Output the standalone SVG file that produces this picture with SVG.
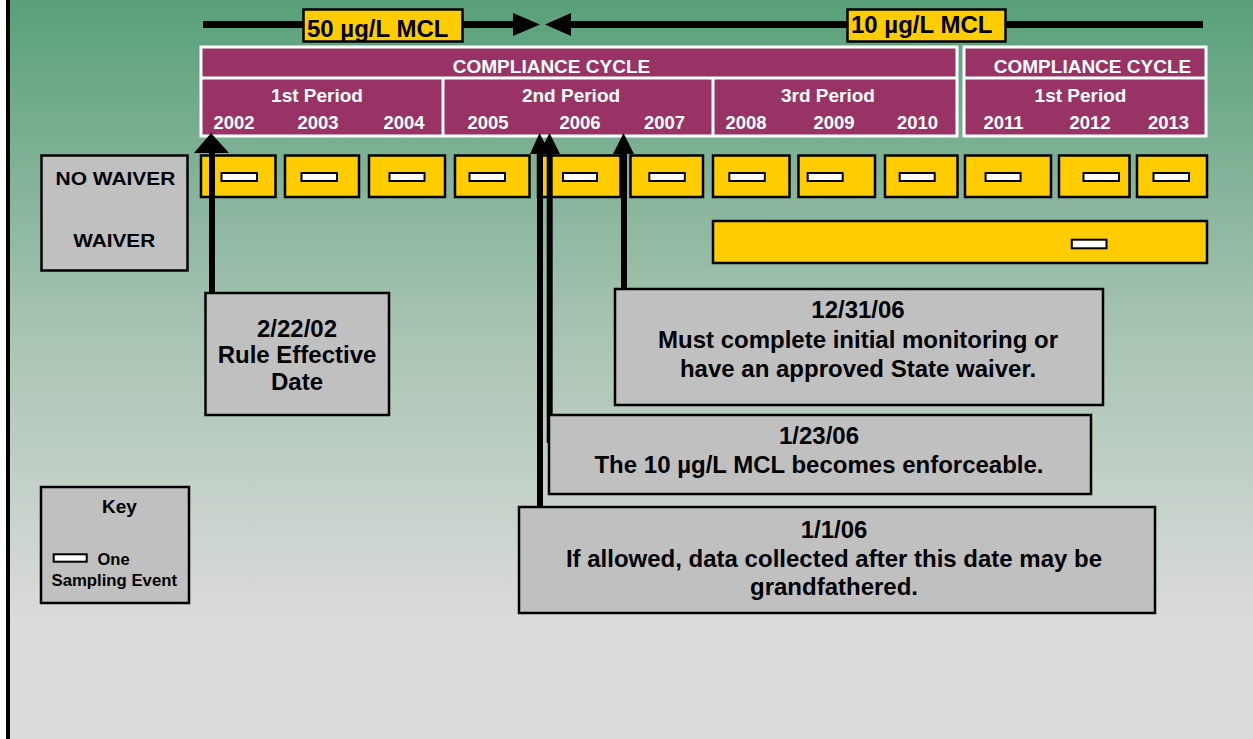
<svg xmlns="http://www.w3.org/2000/svg" width="1253" height="739" viewBox="0 0 1253 739">
<defs>
<linearGradient id="bg" x1="0" y1="0" x2="0" y2="1">
<stop offset="0" stop-color="#58a07a"/>
<stop offset="0.45" stop-color="#a8c4b2"/>
<stop offset="0.85" stop-color="#dcdcdc"/>
<stop offset="1" stop-color="#dcdcdc"/>
</linearGradient>
<style>
.b{font-family:"Liberation Sans",Arial,sans-serif;font-weight:bold}
.w{fill:#ffffff}
.k{fill:#000000}
.tbl{fill:#993366;stroke:#ffffff;stroke-width:3}
.sep{stroke:#ffffff;stroke-width:3}
.gold{fill:#ffcc00;stroke:#000000;stroke-width:2.5}
.samp{fill:#ffffff;stroke:#000000;stroke-width:2}
.gray{fill:#c0c0c0;stroke:#000000;stroke-width:2.5}
.shaft{stroke:#000000;stroke-width:6}
.bar{stroke:#000000;stroke-width:7}
</style>
</defs>
<rect x="0" y="0" width="1253" height="739" fill="url(#bg)"/>
<rect x="0" y="0" width="6" height="739" fill="#ffffff"/>
<rect x="6" y="0" width="4" height="739" fill="#000000"/>

<g id="mcl-bar">
<line class="bar" x1="203" y1="24.5" x2="515" y2="24.5"/>
<polygon class="k" points="513,13 540,24.5 513,36"/>
<polygon class="k" points="571,13 545,24.5 571,36"/>
<line class="bar" x1="569" y1="24.5" x2="1203" y2="24.5"/>
</g>
<g id="mcl50">
<rect x="303.5" y="9.5" width="159" height="32" fill="#ffcc00" stroke="#000" stroke-width="2.5"/>
<text class="b k" x="307" y="37" font-size="24">50 µg/L MCL</text>
</g>
<g id="mcl10">
<rect x="847.5" y="9.5" width="158" height="32" fill="#ffcc00" stroke="#000" stroke-width="2.5"/>
<text class="b k" x="851" y="33" font-size="24">10 µg/L MCL</text>
</g>

<g id="cycle1">
<rect class="tbl" x="201" y="47" width="756" height="89"/>
<line class="sep" x1="201" y1="78" x2="957" y2="78"/>
<line class="sep" x1="443" y1="78" x2="443" y2="136"/>
<line class="sep" x1="713" y1="78" x2="713" y2="136"/>
<g class="b w" font-size="19" text-anchor="middle">
<text x="551.5" y="73">COMPLIANCE CYCLE</text>
<text x="317" y="102">1st Period</text>
<text x="571" y="102">2nd Period</text>
<text x="828" y="102">3rd Period</text>
</g>
<g class="b w" font-size="18.5" text-anchor="middle">
<text x="234" y="129">2002</text>
<text x="318" y="129">2003</text>
<text x="404" y="129">2004</text>
<text x="488" y="129">2005</text>
<text x="580" y="129">2006</text>
<text x="664.5" y="129">2007</text>
<text x="746" y="129">2008</text>
<text x="834" y="129">2009</text>
<text x="917.5" y="129">2010</text>
</g>
</g>

<g id="cycle2">
<rect class="tbl" x="964" y="47" width="242" height="89"/>
<line class="sep" x1="964" y1="78" x2="1206" y2="78"/>
<g class="b w" text-anchor="middle">
<text x="1092.5" y="73" font-size="19">COMPLIANCE CYCLE</text>
<text x="1080.5" y="102" font-size="19">1st Period</text>
<text x="1003.5" y="129" font-size="18.5">2011</text>
<text x="1090" y="129" font-size="18.5">2012</text>
<text x="1168.5" y="129" font-size="18.5">2013</text>
</g>
</g>

<g id="row-labels">
<rect class="gray" x="41.5" y="155.5" width="146" height="115"/>
<text class="b k" x="55.6" y="185" font-size="19" textLength="119.8" lengthAdjust="spacingAndGlyphs">NO WAIVER</text>
<text class="b k" x="73.2" y="247" font-size="19" textLength="82" lengthAdjust="spacingAndGlyphs">WAIVER</text>
</g>

<g id="no-waiver-row">
<rect class="gold" x="201" y="155.5" width="74.5" height="41.5"/>
<rect class="gold" x="285" y="155.5" width="74" height="41.5"/>
<rect class="gold" x="369" y="155.5" width="76" height="41.5"/>
<rect class="gold" x="455" y="155.5" width="74.5" height="41.5"/>
<rect class="gold" x="538" y="155.5" width="82.5" height="41.5"/>
<rect class="gold" x="630.5" y="155.5" width="72.5" height="41.5"/>
<rect class="gold" x="713" y="155.5" width="76.5" height="41.5"/>
<rect class="gold" x="798.5" y="155.5" width="76.5" height="41.5"/>
<rect class="gold" x="885" y="155.5" width="72.5" height="41.5"/>
<rect class="gold" x="965" y="155.5" width="86" height="41.5"/>
<rect class="gold" x="1059" y="155.5" width="70.5" height="41.5"/>
<rect class="gold" x="1137" y="155.5" width="70" height="41.5"/>
<rect class="samp" x="221.5" y="173" width="35.5" height="8"/>
<rect class="samp" x="301.5" y="173" width="35.5" height="8"/>
<rect class="samp" x="389.5" y="173" width="35" height="8"/>
<rect class="samp" x="469.5" y="173" width="35.5" height="8"/>
<rect class="samp" x="563" y="173" width="34" height="8"/>
<rect class="samp" x="649.3" y="173" width="35.5" height="8"/>
<rect class="samp" x="729.3" y="173" width="35.5" height="8"/>
<rect class="samp" x="807.7" y="173" width="35" height="8"/>
<rect class="samp" x="899.7" y="173" width="35" height="8"/>
<rect class="samp" x="985.6" y="173" width="35" height="8"/>
<rect class="samp" x="1083.5" y="173" width="35.5" height="8"/>
<rect class="samp" x="1153.5" y="173" width="35.5" height="8"/>
</g>

<g id="waiver-row">
<rect class="gold" x="713" y="221" width="494" height="42"/>
<rect class="samp" x="1071.8" y="239.7" width="34.7" height="8.6"/>
</g>

<g id="connectors">
<line class="shaft" x1="212" y1="150" x2="212" y2="293"/>
<polygon class="k" points="194,153 211,133 229,153"/>
<line class="shaft" x1="540" y1="150" x2="540" y2="507"/>
<polygon class="k" points="530,154 539.5,133 550,154"/>
<line class="shaft" x1="549.7" y1="150" x2="549.7" y2="443"/>
<polygon class="k" points="539,154 549.5,133 560,154"/>
<line class="shaft" x1="624" y1="150" x2="624" y2="289"/>
<polygon class="k" points="613,154 623.5,133 634,154"/>
</g>

<g id="note-rule-effective">
<rect class="gray" x="205.5" y="293" width="183.5" height="122"/>
<g class="b k" font-size="24" text-anchor="middle">
<text x="297" y="337">2/22/02</text>
<text x="297" y="363">Rule Effective</text>
<text x="297" y="390">Date</text>
</g>
</g>

<g id="note-123106">
<rect class="gray" x="615" y="289" width="488" height="116"/>
<g class="b k" font-size="24" text-anchor="middle">
<text x="858" y="318">12/31/06</text>
<text x="858" y="348">Must complete initial monitoring or</text>
<text x="858" y="377">have an approved State waiver.</text>
</g>
</g>

<g id="note-12306">
<rect class="gray" x="549" y="415" width="542" height="79"/>
<g class="b k" font-size="24" text-anchor="middle">
<text x="819" y="444">1/23/06</text>
<text x="819" y="473">The 10 µg/L MCL becomes enforceable.</text>
</g>
</g>

<g id="note-1106">
<rect class="gray" x="519" y="507" width="636" height="106"/>
<g class="b k" font-size="24" text-anchor="middle">
<text x="834" y="538">1/1/06</text>
<text x="834" y="567">If allowed, data collected after this date may be</text>
<text x="834" y="595">grandfathered.</text>
</g>
</g>

<g id="key">
<rect class="gray" x="41" y="487" width="148" height="116"/>
<text class="b k" x="119.5" y="513" font-size="19" text-anchor="middle">Key</text>
<rect class="samp" x="53.7" y="554.3" width="33" height="7.4"/>
<text class="b k" x="97.5" y="564.5" font-size="16.5">One</text>
<text class="b k" x="51.5" y="586" font-size="16.5" textLength="125.5" lengthAdjust="spacingAndGlyphs">Sampling Event</text>
</g>
</svg>
